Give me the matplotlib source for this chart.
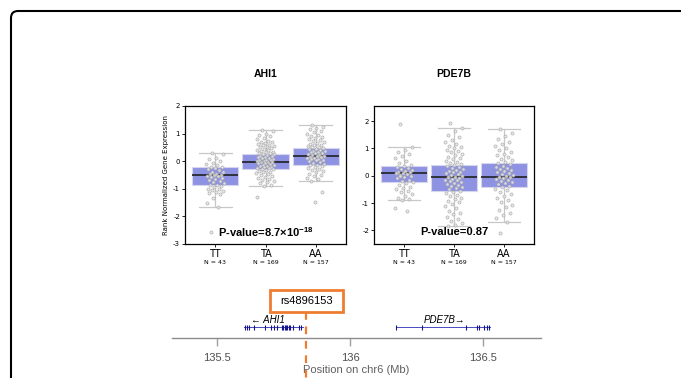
import numpy as np
import matplotlib.pyplot as plt
import matplotlib.patches as mpatches

plt.rcParams['mathtext.fontset'] = 'custom'
plt.rcParams['mathtext.bf'] = 'Liberation Sans:bold'
plt.rcParams['mathtext.rm'] = 'Liberation Sans'

genotypes = ['TT', 'TA', 'AA']
counts = [43, 169, 157]

# box statistics: low whisker, q1, median, q3, high whisker
ahi1_stats = [[-1.65, -0.85, -0.50, -0.22, 0.30],
              [-0.90, -0.28, -0.03, 0.27, 1.12],
              [-0.72, -0.15, 0.20, 0.47, 1.32]]
pde7b_stats = [[-0.90, -0.22, 0.10, 0.35, 1.05],
               [-1.85, -0.55, -0.05, 0.38, 1.75],
               [-1.70, -0.42, -0.03, 0.45, 1.70]]

ahi1_tt = [0.3, 0.27, 0.12, 0.08, 0.02, -0.05, -0.1, -0.15, -0.2, -0.22, -0.25, -0.3,
           -0.33, -0.38, -0.4, -0.45, -0.48, -0.5, -0.5, -0.52, -0.55, -0.58, -0.6, -0.63,
           -0.67, -0.7, -0.75, -0.8, -0.85, -0.88, -0.9, -0.95, -1.0, -1.02, -1.05, -1.08,
           -1.1, -1.15, -1.2, -1.35, -1.5, -1.65, -2.55]
ahi1_ta = [1.12, 1.08, 1.0, 0.95, 0.9, 0.85, 0.8, 0.75, 0.7, 0.68, 0.65, 0.62, 0.6, 0.58,
           0.55, 0.52, 0.5, 0.48, 0.45, 0.42, 0.4, 0.38, 0.35, 0.33, 0.3, 0.28, 0.27, 0.25,
           0.22, 0.2, 0.18, 0.16, 0.14, 0.12, 0.1, 0.08, 0.06, 0.05, 0.03, 0.01, 0.0, -0.02,
           -0.03, -0.04, -0.06, -0.08, -0.1, -0.12, -0.14, -0.16, -0.18, -0.2, -0.22, -0.24,
           -0.26, -0.28, -0.3, -0.32, -0.35, -0.38, -0.4, -0.43, -0.46, -0.5, -0.53, -0.56,
           -0.6, -0.63, -0.67, -0.7, -0.75, -0.8, -0.85, -0.9, -1.3]
ahi1_aa = [1.32, 1.25, 1.2, 1.15, 1.1, 1.05, 1.0, 0.95, 0.92, 0.88, 0.85, 0.8, 0.77, 0.74,
           0.7, 0.67, 0.64, 0.6, 0.58, 0.55, 0.52, 0.5, 0.47, 0.45, 0.43, 0.4, 0.38, 0.36,
           0.34, 0.32, 0.3, 0.28, 0.26, 0.24, 0.22, 0.2, 0.19, 0.17, 0.15, 0.13, 0.11, 0.09,
           0.07, 0.05, 0.03, 0.0, -0.03, -0.06, -0.09, -0.12, -0.15, -0.18, -0.21, -0.25,
           -0.28, -0.32, -0.36, -0.4, -0.45, -0.5, -0.55, -0.6, -0.66, -0.72, -1.12, -1.47]
pde7b_tt = [1.9, 1.05, 0.95, 0.85, 0.78, 0.72, 0.65, 0.55, 0.48, 0.4, 0.35, 0.32, 0.28,
            0.25, 0.2, 0.17, 0.14, 0.12, 0.1, 0.08, 0.05, 0.02, -0.02, -0.06, -0.1, -0.15,
            -0.2, -0.22, -0.28, -0.35, -0.4, -0.45, -0.5, -0.55, -0.6, -0.68, -0.75, -0.8,
            -0.85, -0.9, -1.2, -1.3, 0.0]
pde7b_ta = [1.92, 1.75, 1.65, 1.5, 1.4, 1.3, 1.22, 1.15, 1.1, 1.05, 1.0, 0.95, 0.9, 0.85,
            0.8, 0.75, 0.7, 0.65, 0.6, 0.55, 0.5, 0.46, 0.42, 0.38, 0.35, 0.32, 0.28, 0.25,
            0.22, 0.18, 0.15, 0.12, 0.09, 0.06, 0.03, 0.0, -0.03, -0.05, -0.08, -0.11, -0.14,
            -0.17, -0.2, -0.23, -0.26, -0.3, -0.34, -0.38, -0.42, -0.46, -0.5, -0.55, -0.6,
            -0.65, -0.7, -0.75, -0.8, -0.86, -0.92, -0.98, -1.05, -1.12, -1.2, -1.28, -1.35,
            -1.42, -1.5, -1.58, -1.65, -1.72, -1.8, -1.85]
pde7b_aa = [1.7, 1.55, 1.45, 1.35, 1.25, 1.15, 1.08, 1.0, 0.93, 0.86, 0.8, 0.74, 0.68,
            0.62, 0.56, 0.5, 0.45, 0.41, 0.37, 0.33, 0.29, 0.25, 0.21, 0.17, 0.13, 0.09,
            0.05, 0.02, -0.01, -0.03, -0.06, -0.09, -0.12, -0.15, -0.19, -0.23, -0.27,
            -0.31, -0.36, -0.42, -0.48, -0.54, -0.6, -0.67, -0.74, -0.82, -0.9, -0.98,
            -1.07, -1.15, -1.25, -1.35, -1.45, -1.55, -1.7, -2.1]

# gene track (Mb)
snp_name = 'rs4896153'
snp_pos = 135.835
ahi1_span = [135.603, 135.822]
ahi1_exons = [135.605, 135.612, 135.620, 135.640, 135.680, 135.705, 135.715, 135.725,
              135.745, 135.750, 135.755, 135.760, 135.765, 135.770, 135.775, 135.785,
              135.810, 135.817]
pde7b_span = [136.173, 136.526]
pde7b_exons = [136.173, 136.271, 136.436, 136.477, 136.485, 136.504, 136.515, 136.523]
track_ticks = [135.5, 136.0, 136.5]
track_ticklabels = ['135.5', '136', '136.5']

W, H = 681, 378
fig = plt.figure(figsize=(W / 100, H / 100), dpi=100)

# rounded frame running off the right and bottom edges
frame = mpatches.FancyBboxPatch((11, -40), 760, 407, boxstyle='round,pad=0,rounding_size=7',
                                fc='none', ec='black', lw=1.5, transform=None)
fig.patches.append(frame)


def px_axes(x0, y0, x1, y1):
    return fig.add_axes([x0 / W, 1 - y1 / H, (x1 - x0) / W, (y1 - y0) / H])


def box_panel(ax, title, stats, groups, ylim, yticks, ptext):
    bxp_stats = [dict(whislo=s[0], q1=s[1], med=s[2], q3=s[3], whishi=s[4], fliers=[])
                 for s in stats]
    ax.bxp(bxp_stats, positions=range(3), widths=0.92, capwidths=0.65, patch_artist=True,
           showfliers=False,
           boxprops=dict(facecolor='#8e92e2', edgecolor='#d6d6ee', lw=0.8),
           medianprops=dict(color='#202020', lw=1.2),
           whiskerprops=dict(color='#c8c8c8', lw=0.9),
           capprops=dict(color='#c8c8c8', lw=0.9))
    for i, vals in enumerate(groups):
        k = np.arange(len(vals))
        xs = i + ((k * 0.618034 + 0.3) % 1 - 0.5) * 0.36
        ax.scatter(xs, vals, s=5, facecolor='#e6e6e6', edgecolor='#a8a8a8', lw=0.5,
                   alpha=0.85, zorder=3)
    ax.set_xlim(-0.6, 2.6)
    ax.set_ylim(*ylim)
    ax.set_yticks(yticks)
    ax.set_yticklabels([str(t) for t in yticks], fontsize=5)
    ax.tick_params(axis='y', length=2, width=0.6, pad=1.5)
    ax.set_xticks(range(3))
    ax.set_xticklabels([])
    ax.tick_params(axis='x', length=2, width=0.6)
    for sp in ax.spines.values():
        sp.set_linewidth(0.9)
    tr = ax.get_xaxis_transform()
    for i, g in enumerate(genotypes):
        ax.text(i, -0.07, g, transform=tr, ha='center', va='center', fontsize=7)
        ax.text(i, -0.135, f'N = {counts[i]}', transform=tr, ha='center', va='center',
                fontsize=4.5)
    ax.text(0.5, 1.23, title, transform=ax.transAxes, ha='center', va='center',
            fontsize=7.5, fontweight='bold', family='Liberation Sans')
    ax.text(0.5, 0.085, ptext, transform=ax.transAxes, ha='center', va='center',
            fontsize=8, fontweight='bold', family='Liberation Sans', zorder=5)


ax1 = px_axes(185, 106, 346, 244)
box_panel(ax1, 'AHI1', ahi1_stats, [ahi1_tt, ahi1_ta, ahi1_aa], (-3, 2),
          [-3, -2, -1, 0, 1, 2], 'P-value=8.7×10$^{\\mathbf{-18}}$')
ax1.set_ylabel('Rank Normalized Gene Expression', fontsize=5, labelpad=3)

ax2 = px_axes(374, 106, 534, 244)
box_panel(ax2, 'PDE7B', pde7b_stats, [pde7b_tt, pde7b_ta, pde7b_aa], (-2.5, 2.55),
          [-2, -1, 0, 1, 2], 'P-value=0.87')

# gene / SNP track
axg = px_axes(172, 285, 541, 338)
axg.set_xlim(135.331, 136.718)
axg.set_ylim(0, 1)
for s in ['top', 'left', 'right']:
    axg.spines[s].set_visible(False)
axg.spines['bottom'].set_color('#8c8c8c')
axg.spines['bottom'].set_linewidth(1.0)
axg.set_yticks([])
axg.set_xticks(track_ticks)
axg.set_xticklabels(track_ticklabels, fontsize=8, color='#505050', family='Liberation Sans')
axg.tick_params(axis='x', length=6, width=1, color='#a0a0a0', pad=5)
axg.set_xlabel('Position on chr6 (Mb)', fontsize=8, color='#606060',
               family='Liberation Sans', labelpad=1)

gy = 0.2
for span, exons in [(ahi1_span, ahi1_exons), (pde7b_span, pde7b_exons)]:
    axg.plot(span, [gy, gy], color='#4a4ac0', lw=0.7)
    axg.vlines(exons, gy - 0.045, gy + 0.045, color='#14148c', lw=0.8)
axg.text(sum(ahi1_span) / 2 - 0.02, 0.34, '\u2190 AHI1', ha='center', va='center',
         fontsize=7, style='italic', family=['Liberation Sans', 'DejaVu Sans'])
axg.text(sum(pde7b_span) / 2 + 0.005, 0.34, 'PDE7B\u2192', ha='center', va='center',
         fontsize=7, style='italic', family=['Liberation Sans', 'DejaVu Sans'])

axg.plot([snp_pos, snp_pos], [0.5, -0.8], color='#ee7d31', lw=1.6, ls=(0, (3.5, 3)),
         clip_on=False, zorder=4)
axg.add_patch(mpatches.Rectangle((snp_pos - 0.137, 0.49), 0.274, 0.415, fc='white',
                                 ec='#ee7d31', lw=2.0, clip_on=False, zorder=5))
axg.text(snp_pos, 0.69, snp_name, ha='center', va='center', fontsize=8,
         family='Liberation Sans', zorder=6)

fig.savefig('out.png', dpi=100)
